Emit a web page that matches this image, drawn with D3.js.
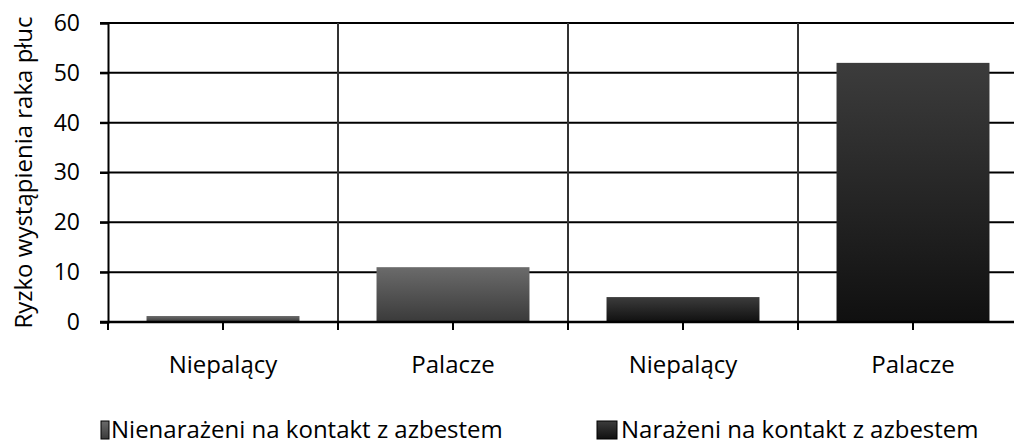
<!DOCTYPE html>
<html>
<head>
<meta charset="utf-8">
<script src="https://cdn.jsdelivr.net/npm/d3@7"></script>
<style>
  body { margin: 0; background: #fff; }
  svg { display: block; font-family: "Open Sans", sans-serif; }
</style>
</head>
<body>
<div id="chart"></div>
<script>
var width = 1014,
    height = 446;

// data
var categories = ["Niepalący", "Palacze", "Niepalący", "Palacze"];
var values = [1.2, 11, 5, 52];
var seriesOf = [0, 0, 1, 1];
var seriesNames = ["Nienarażeni na kontakt z azbestem", "Narażeni na kontakt z azbestem"];
var yTicks = [0, 10, 20, 30, 40, 50, 60];
var yLabel = "Ryzko wystąpienia raka płuc";

var svg = d3.select("#chart")
  .append("svg")
    .attr("width", width)
    .attr("height", height);

// gradients for the two series
var defs = svg.append("defs");
var grads = [["#6b6b6b", "#3a3a3a"], ["#3c3c3c", "#101010"]];
grads.forEach(function(g, i) {
  var lg = defs.append("linearGradient")
    .attr("id", "grad" + i)
    .attr("x1", 0).attr("y1", 0).attr("x2", 0).attr("y2", 1);
  lg.append("stop").attr("offset", "0%").attr("stop-color", g[0]);
  lg.append("stop").attr("offset", "100%").attr("stop-color", g[1]);
});

var x = d3.scaleBand()
  .domain(d3.range(categories.length))
  .range([108, 1028])
  .padding(0);

var y = d3.scaleLinear()
  .domain([0, 60])
  .range([322, 23]);

// horizontal gridlines
svg.append("g")
  .selectAll("line")
  .data(yTicks)
  .enter()
  .append("line")
    .attr("x1", 100)
    .attr("x2", width)
    .attr("y1", function(d) { return y(d); })
    .attr("y2", function(d) { return y(d); })
    .attr("stroke", "#000")
    .attr("stroke-width", 2);

// vertical gridlines at category boundaries
svg.append("g")
  .selectAll("line")
  .data(d3.range(1, categories.length))
  .enter()
  .append("line")
    .attr("x1", function(d) { return x(d); })
    .attr("x2", function(d) { return x(d); })
    .attr("y1", y(60))
    .attr("y2", y(0) + 8)
    .attr("stroke", "#333")
    .attr("stroke-width", 2);

// bars
var barW = x.bandwidth() * 0.665;
svg.append("g")
  .selectAll("rect")
  .data(values)
  .enter()
  .append("rect")
    .attr("x", function(d, i) { return x(i) + (x.bandwidth() - barW) / 2; })
    .attr("width", barW)
    .attr("y", function(d) { return y(d); })
    .attr("height", function(d) { return y(0) - y(d); })
    .attr("fill", function(d, i) { return "url(#grad" + seriesOf[i] + ")"; });

// y axis
var yAxis = svg.append("g")
  .attr("transform", "translate(108,0)")
  .call(d3.axisLeft(y).tickValues(yTicks).tickSize(8).tickPadding(20));
yAxis.select(".domain").attr("stroke-width", 2);
yAxis.selectAll(".tick line").attr("stroke-width", 2);
yAxis.selectAll("text")
  .attr("font-size", 23)
  .attr("fill", "#000")
  .attr("font-family", "Open Sans, sans-serif");

// x axis line and ticks (boundaries and centres)
svg.append("line")
  .attr("x1", 100).attr("x2", width)
  .attr("y1", y(0)).attr("y2", y(0))
  .attr("stroke", "#000").attr("stroke-width", 2.5);

var tickPos = [];
d3.range(categories.length).forEach(function(i) {
  tickPos.push(x(i));
  tickPos.push(x(i) + x.bandwidth() / 2);
});
svg.append("g")
  .selectAll("line")
  .data(tickPos)
  .enter()
  .append("line")
    .attr("x1", function(d) { return d; })
    .attr("x2", function(d) { return d; })
    .attr("y1", y(0))
    .attr("y2", y(0) + 8)
    .attr("stroke", "#000")
    .attr("stroke-width", 2);

// category labels
svg.append("g")
  .selectAll("text")
  .data(categories)
  .enter()
  .append("text")
    .attr("x", function(d, i) { return x(i) + x.bandwidth() / 2; })
    .attr("y", 373)
    .attr("text-anchor", "middle")
    .attr("font-size", 24)
    .text(function(d) { return d; });

// y label
svg.append("text")
  .attr("transform", "translate(32," + ((y(0) + y(60)) / 2) + ") rotate(-90)")
  .attr("text-anchor", "middle")
  .attr("font-size", 24)
  .text(yLabel);

// legend
var legendX = [101, 597];
var legend = svg.append("g")
  .selectAll("g")
  .data(seriesNames)
  .enter()
  .append("g")
    .attr("transform", function(d, i) { return "translate(" + legendX[i] + ",421)"; });
legend.append("rect")
  .attr("width", function(d, i) { return i === 0 ? 8 : 20; })
  .attr("height", 18)
  .attr("fill", function(d, i) { return "url(#grad" + i + ")"; })
  .attr("stroke", "#000")
  .attr("stroke-width", 1);
legend.append("text")
  .attr("x", function(d, i) { return i === 0 ? 10 : 24; })
  .attr("y", 17)
  .attr("font-size", 24)
  .text(function(d) { return d; });
</script>
</body>
</html>
